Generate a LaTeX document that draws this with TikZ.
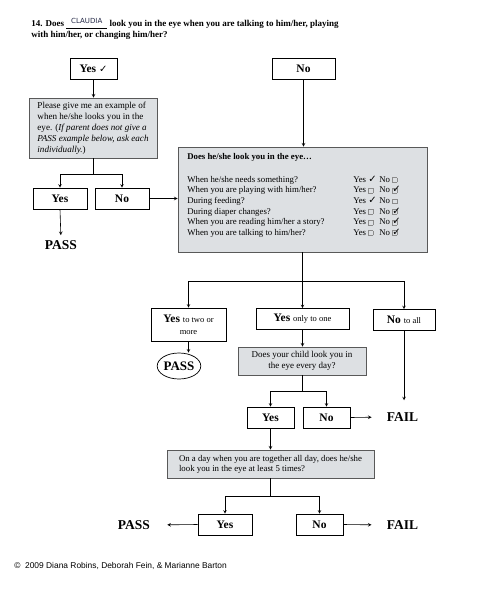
\documentclass[tikz,border=0pt]{standalone}
\usepackage{fontspec}
\setmainfont{Liberation Serif}
\setsansfont{Liberation Sans}
\newfontfamily\symfont{DejaVu Sans}
\usetikzlibrary{shapes.geometric}

\definecolor{boxgrey}{RGB}{221,224,227}
\definecolor{pen}{RGB}{35,40,70}

% 小さな四角と手書きのチェック
\newcommand{\ybox}{{\color{black!45}\fboxsep=0pt\fboxrule=0.3pt\fbox{\rule{0pt}{4.5pt}\hspace{4.5pt}}}}
\newcommand{\ytick}{{\symfont\bfseries\fontsize{10}{10}\selectfont ✓}}
\newcommand{\yticked}{\rlap{\ybox}\ytick}
\newcommand{\boxnote}[1]{{\mdseries\fontsize{8.5}{12}\selectfont #1}}
\newcommand{\claudia}{\makebox[41pt]{\rlap{\rule[-1.5pt]{41pt}{0.4pt}}\hfill\raisebox{3.5pt}{\symfont\mdseries\fontsize{7}{7}\selectfont\color{pen}CLAUDIA}\hfill}}

\begin{document}
\begin{tikzpicture}[x=1pt, y=-1pt, >=stealth, line width=0.6pt,
  box/.style={draw, minimum height=21pt, inner sep=0pt, font=\bfseries\fontsize{11.5}{12}\selectfont},
  greybox/.style={draw=black!65, fill=boxgrey, line width=0.8pt, inner sep=0pt, font=\fontsize{9}{10.6}\selectfont},
  result/.style={inner sep=0pt, font=\bfseries\fontsize{13.5}{15}\selectfont}]
  \useasboundingbox (0,0) rectangle (500,600);
  % 表題
  \node[anchor=north west, align=left, inner sep=0pt, font=\bfseries\fontsize{9}{10.5}\selectfont] (title) at (31,18)
    {14. Does \claudia{} look you in the eye when you are talking to him/her, playing\\with him/her, or changing him/her?};
  % 最初の答え
  \node[box, minimum width=47pt] (yes0) at (93.5,69) {Yes \ytick};
  \node[box, minimum width=63pt] (no0) at (303.5,68.5) {No};
  % 例を尋ねる
  \node[greybox, minimum width=128pt, minimum height=60pt, align=left, font=\fontsize{9.1}{11}\selectfont] (q1) at (93,128)
    {Please give me an example of\\when he/she looks you in the\\eye. (\textit{If parent does not give a}\\\textit{PASS example below, ask each}\\\textit{individually.})};
  \node[box, minimum width=54pt] (y1) at (60,198.5) {Yes};
  \node[box, minimum width=54pt] (n1) at (122,198.5) {No};
  \node[result] (pass1) at (61,245) {PASS};
  % 質問の一覧
  \node[greybox, minimum width=249pt, minimum height=105pt] (q2) at (302.5,199.5) {};
  \node[anchor=north west, inner sep=0pt, font=\fontsize{8.8}{10.6}\selectfont] (q2list) at (187,151.5) {%
    \begin{tabular}{@{}p{166pt}@{}l@{}}
      \multicolumn{2}{@{}l@{}}{\textbf{Does he/she look you in the eye\dots}}\\[12.4pt]
      When he/she needs something?          & Yes \makebox[11pt][l]{\ytick}No \ybox\\
      When you are playing with him/her?    & Yes \makebox[11pt][l]{\ybox}No \yticked\\
      During feeding?                       & Yes \makebox[11pt][l]{\ytick}No \ybox\\
      During diaper changes?                & Yes \makebox[11pt][l]{\ybox}No \yticked\\
      When you are reading him/her a story? & Yes \makebox[11pt][l]{\ybox}No \yticked\\
      When you are talking to him/her?      & Yes \makebox[11pt][l]{\ybox}No \yticked
    \end{tabular}};
  % 三つの分岐
  \node[box, minimum width=75pt, minimum height=33pt, align=center, font=\bfseries\fontsize{11.5}{12}\selectfont] (ytwo) at (188.5,324.5) {Yes \boxnote{to two or}\\\boxnote{more}};
  \node[box, minimum width=93pt] (yone) at (302.5,319) {Yes \boxnote{only to one}};
  \node[box, minimum width=62pt] (nall) at (404,320) {No \boxnote{to all}};
  \node[ellipse, draw, line width=0.7pt, minimum width=36pt, minimum height=26pt, inner sep=0pt, font=\bfseries\fontsize{13}{15}\selectfont] (pass2) at (179,366) {PASS};
  % 毎日見るか
  \node[greybox, minimum width=128pt, minimum height=28pt, align=center] (q3) at (302,361) {Does your child look you in\\the eye every day?};
  \node[box, minimum width=47pt] (y3) at (270.5,417.5) {Yes};
  \node[box, minimum width=47pt] (n3) at (326.5,417.5) {No};
  \node[result] (fail1) at (402.5,417) {FAIL};
  % 5回以上か
  \node[greybox, minimum width=207pt, minimum height=28pt, align=left, font=\fontsize{8.8}{9.8}\selectfont] (q4) at (270.5,464)
    {On a day when you are together all day, does he/she\\look you in the eye at least 5 times?};
  \node[box, minimum width=54pt] (y4) at (225,524.5) {Yes};
  \node[box, minimum width=47pt] (n4) at (319.5,524.5) {No};
  \node[result] (pass3) at (134,525) {PASS};
  \node[result] (fail2) at (402.5,525) {FAIL};
  % 著作権
  \node[anchor=west, inner sep=0pt, font=\sffamily\fontsize{8.4}{9}\selectfont] (copy) at (14,566) {©\ \ 2009 Diana Robins, Deborah Fein, \& Marianne Barton};
  % 分岐点
  \coordinate (j1) at (93,174);
  \coordinate (j2) at (302.5,281);
  \coordinate (j3) at (302,391);
  \coordinate (j4) at (270.5,496);
  % 矢印
  \draw[->] (yes0.south) -- (yes0.south |- q1.north);
  \draw[->] (no0.south) -- (no0.south |- q2.north);
  \draw (q1.south) -- (j1);
  \draw[->] (j1) -| (y1.north);
  \draw[->] (j1) -| (n1.north);
  \draw[->, shorten >=5pt] (y1.south) -- (pass1.north);
  \draw[->] (n1.east) -- (n1.east -| q2.west);
  \draw (q2.south) -- (j2);
  \draw[->] (j2) -| (ytwo.north);
  \draw[->] (j2) -| (yone.north);
  \draw[->] (j2) -| (nall.north);
  \draw[->] (ytwo.south) -- (ytwo.south |- pass2.north);
  \draw[->] (yone.south) -- (yone.south |- q3.north);
  \draw[->, shorten >=12pt] (nall.south) -- (nall.south |- fail1.north);
  \draw (q3.south) -- (j3);
  \draw[->] (j3) -| (y3.north);
  \draw[->] (j3) -| (n3.north);
  \draw[->, shorten >=15pt] (n3.east) -- (fail1.west);
  \draw[->] (y3.south) -- (y3.south |- q4.north);
  \draw (q4.south) -- (j4);
  \draw[->] (j4) -| (y4.north);
  \draw[->] (j4) -| (n4.north);
  \draw[->, shorten >=17pt] (y4.west) -- (pass3.east);
  \draw[->, shorten >=15pt] (n4.east) -- (fail2.west);
\end{tikzpicture}
\end{document}
